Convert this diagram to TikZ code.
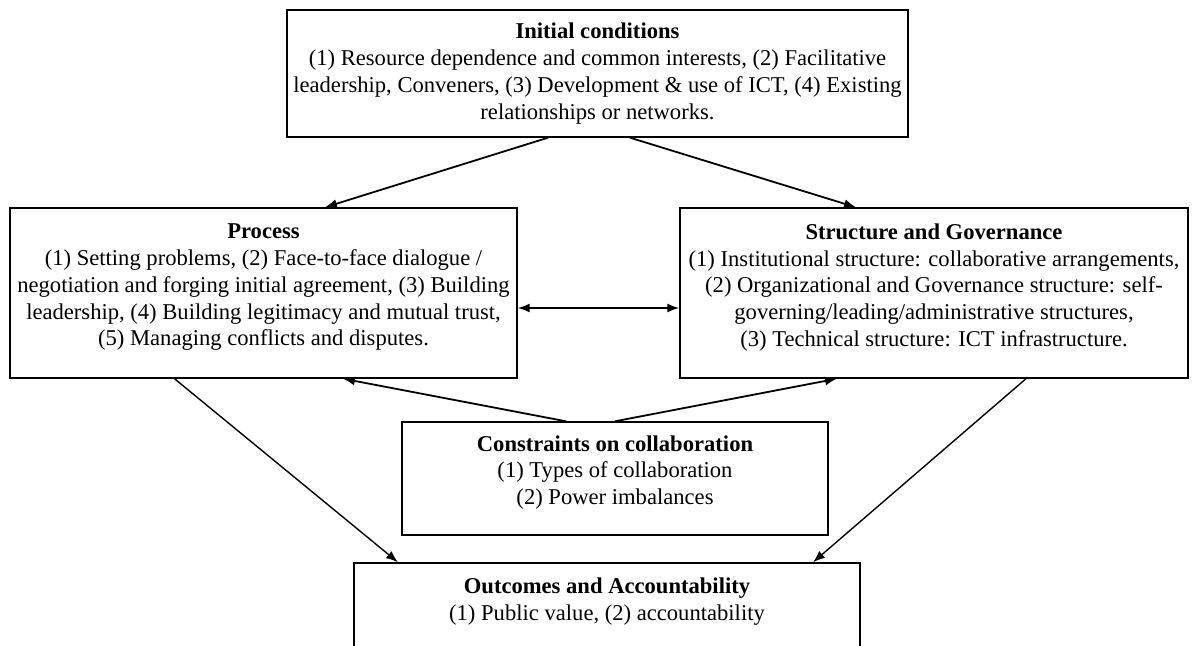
\documentclass[tikz,border=0pt]{standalone}
\usepackage{fontspec}
\setmainfont{Liberation Serif}
\usetikzlibrary{arrows.meta,positioning}

\begin{document}
\begin{tikzpicture}[x=0.5pt,y=-0.5pt, line width=.9pt, every node/.style={font=\fontsize{11.3}{13.4}\selectfont,align=center},
  box/.style={draw,line width=.7pt,inner xsep=2pt},
  >={Latex[length=6pt,width=4.5pt]}]
\clip (0,0) rectangle (1199,646);
\fill[white] (0,0) rectangle (1199,646);
% the five boxes
\node[box,minimum width=310.5pt,minimum height=63.5pt] (init) at (597.5,73.5) {\textbf{Initial conditions}\\(1) Resource dependence and common interests, (2) Facilitative\\leadership, Conveners, (3) Development \& use of ICT, (4) Existing\\relationships or networks.};
\node[box,minimum width=253.5pt,minimum height=85pt] (proc) at (263.5,293) {\textbf{Process}\\(1) Setting problems, (2) Face-to-face dialogue /\\negotiation and forging initial agreement, (3) Building\\leadership, (4) Building legitimacy and mutual trust,\\(5) Managing conflicts and disputes.\rule[-8pt]{0pt}{0pt}};
\node[box,minimum width=254pt,minimum height=85pt] (struct) at (934,293) {\textbf{Structure and Governance}\\(1) Institutional structure: collaborative arrangements,\\(2) Organizational and Governance structure: self-\\governing/leading/administrative structures,\\(3) Technical structure: ICT infrastructure.\rule[-8pt]{0pt}{0pt}};
\node[box,minimum width=213pt,minimum height=56.5pt] (cons) at (615,478.5) {\textbf{Constraints on collaboration}\\(1) Types of collaboration\\(2) Power imbalances\rule[-8.5pt]{0pt}{0pt}};
\node[box,minimum width=253pt,minimum height=63.5pt] (outc) at (607,626.5) {\textbf{Outcomes and Accountability}\\(1) Public value, (2) accountability\rule[-27.5pt]{0pt}{0pt}};
% connectors
\draw[->] ([xshift=-24.75pt]init.south) -- ([xshift=30.75pt]proc.north);
\draw[->] ([xshift=16.25pt]init.south) -- ([xshift=-39pt]struct.north);
\draw[<->] ([yshift=-7.5pt]proc.east) -- ([yshift=-7.5pt]struct.west);
\draw[->] ([xshift=-24.5pt]cons.north) -- ([xshift=39.75pt]proc.south);
\draw[->] (cons.north) -- ([xshift=-48.5pt]struct.south);
\draw[->,line width=.7pt] ([xshift=-44.5pt]proc.south) -- ([xshift=-104.5pt]outc.north);
\draw[->,line width=.7pt] ([xshift=46pt]struct.south) -- ([xshift=103pt]outc.north);
\end{tikzpicture}
\end{document}
